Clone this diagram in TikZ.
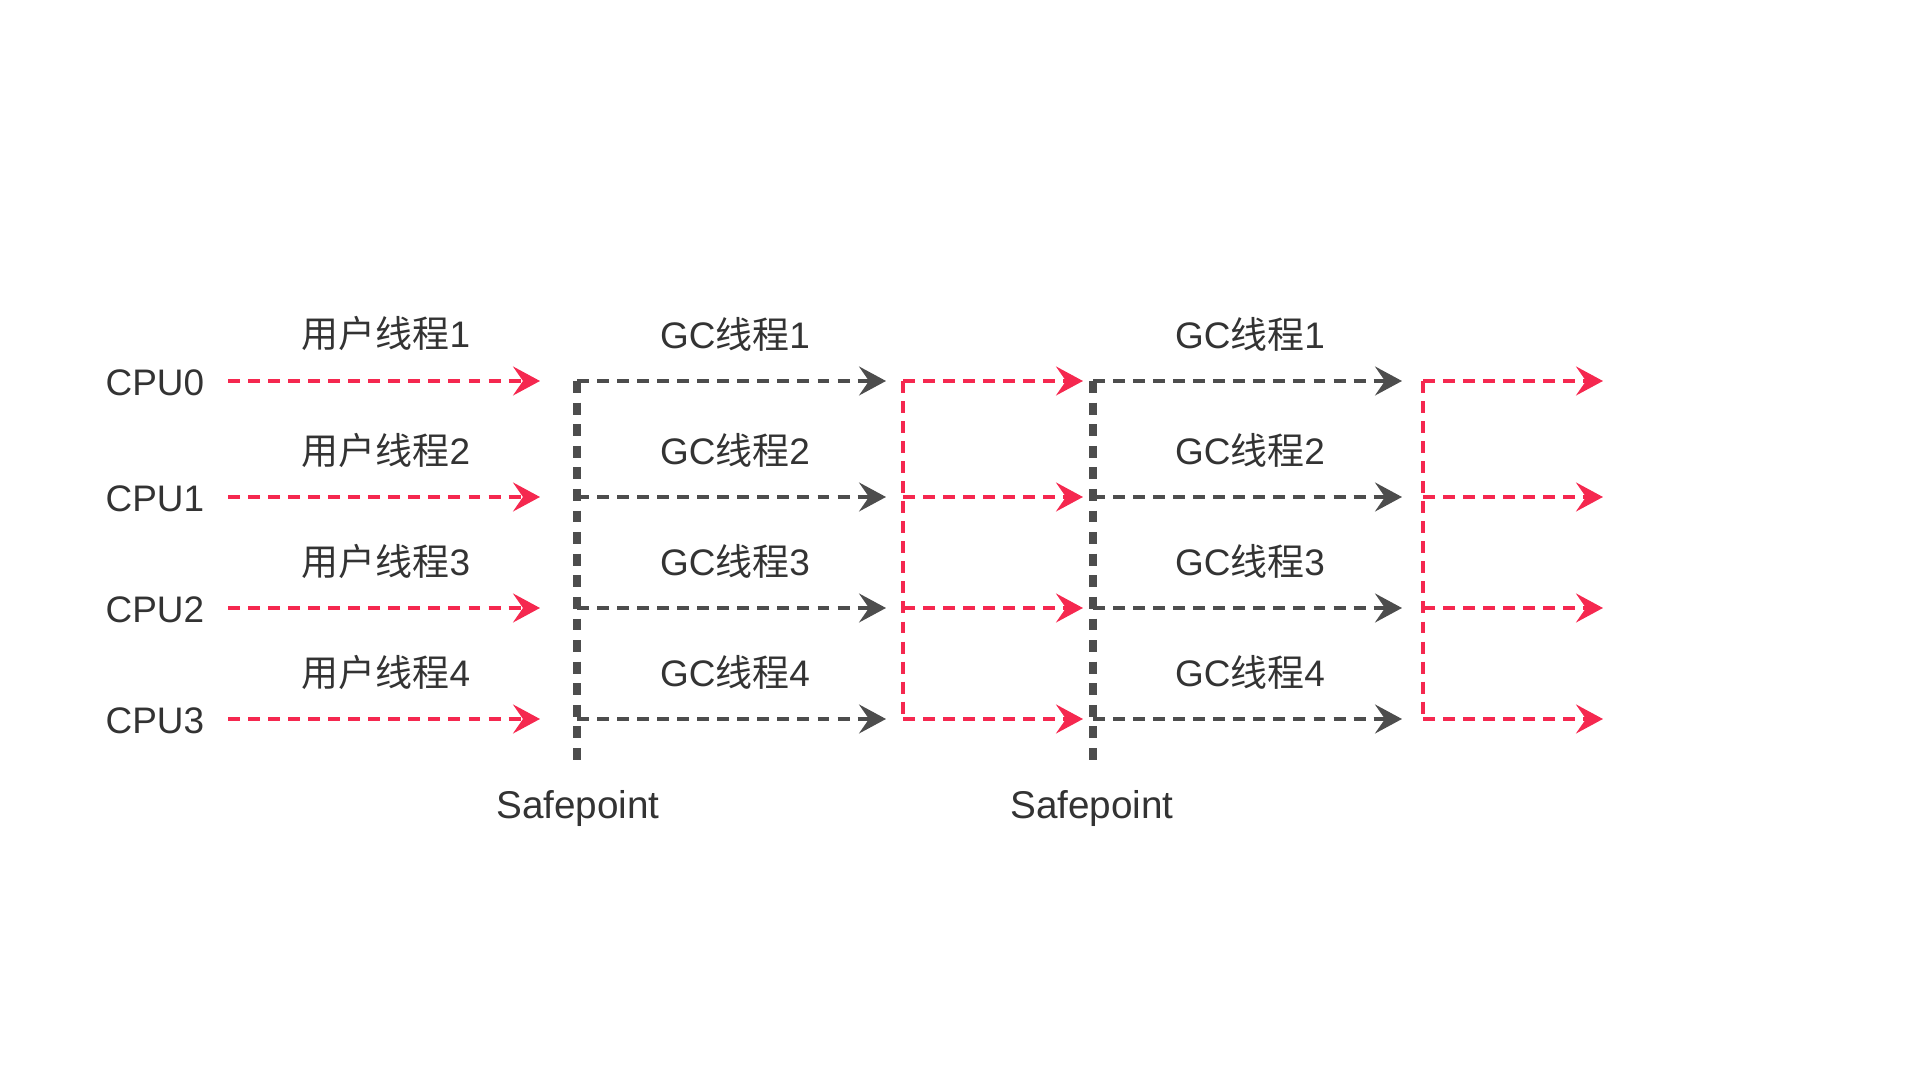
\documentclass[tikz,border=0pt]{standalone}
\usepackage{fontspec}
\setmainfont{Liberation Sans}
\newfontfamily\cjk{Noto Sans CJK SC}
\usetikzlibrary{arrows.meta}
\definecolor{runred}{HTML}{F5284F}
\definecolor{gcgray}{HTML}{4D4D4D}
\definecolor{txtgray}{HTML}{333333}

\begin{document}
\begin{tikzpicture}[x=0.01cm, y=-0.01cm,
    lbl/.style={text=txtgray, inner sep=0pt, font=\fontsize{10.5}{12}\selectfont},
    runarrow/.style={draw=runred, line width=0.9pt, dash pattern=on 3.4pt off 2.3pt,
                     -{Stealth[length=2.7mm, width=2.9mm, inset=1mm]}},
    runline/.style={draw=runred, line width=0.9pt, dash pattern=on 3.4pt off 2.3pt},
    gcarrow/.style={draw=gcgray, line width=0.9pt, dash pattern=on 3.4pt off 2.3pt,
                    -{Stealth[length=2.7mm, width=2.9mm, inset=1mm]}},
    safeline/.style={draw=gcgray, line width=2.5pt, dash pattern=on 3.4pt off 2.74pt}
  ]
    \useasboundingbox (0,0) rectangle (1920,1080);

    % one row per cpu
    \foreach \r/\y in {0/381,1/497,2/608,3/719}{
      \coordinate (u\r) at (228,\y);
      \coordinate (ue\r) at (540,\y);
      \coordinate (sa\r) at (577,\y);
      \coordinate (ga\r) at (886,\y);
      \coordinate (ra\r) at (903,\y);
      \coordinate (re\r) at (1083,\y);
      \coordinate (sb\r) at (1093,\y);
      \coordinate (gb\r) at (1402,\y);
      \coordinate (rb\r) at (1423,\y);
      \coordinate (rf\r) at (1603,\y);
    }
    \coordinate (sabot) at (577,760);
    \coordinate (sbbot) at (1093,760);

    % safepoints
    \draw[safeline] (sa0) -- (sabot);
    \draw[safeline] (sb0) -- (sbbot);
    \node[lbl, font=\fontsize{11}{13}\selectfont] (safe1) at (578,809) {Safepoint};
    \node[lbl, font=\fontsize{11}{13}\selectfont] (safe2) at (1092,809) {Safepoint};

    % red brackets
    \draw[runline] (ra0) -- (ra3);
    \draw[runline] (rb0) -- (rb3);

    \foreach \r/\y in {0/381,1/497,2/608,3/719}{
      \pgfmathtruncatemacro{\n}{\r+1}
      \node[lbl, anchor=west] (cpu\r) at (105,\y+2) {CPU\r};
      \node[lbl] (usr\r) at (386,\y-47) {{\cjk 用户线程}\n};
      \node[lbl] (gca\r) at (735,\y-47) {GC{\cjk 线程}\n};
      \node[lbl] (gcb\r) at (1250,\y-47) {GC{\cjk 线程}\n};
      \draw[runarrow] (u\r) -- (ue\r);
      \draw[gcarrow] (sa\r) -- (ga\r);
      \draw[runarrow] (ra\r) -- (re\r);
      \draw[gcarrow] (sb\r) -- (gb\r);
      \draw[runarrow] (rb\r) -- (rf\r);
    }
\end{tikzpicture}
\end{document}
